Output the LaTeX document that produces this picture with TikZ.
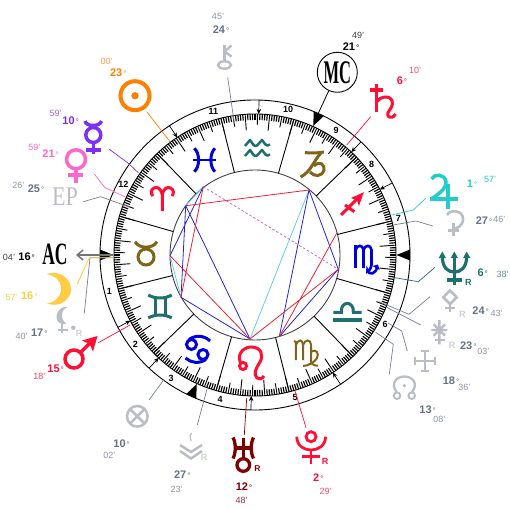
\documentclass[tikz,border=0pt]{standalone}
\usepackage{fontspec}
\setmainfont{Liberation Sans}
\newfontfamily\serifc{Liberation Serif}
\usetikzlibrary{arrows.meta}
\definecolor{cSun}{HTML}{FF8000}
\definecolor{cRed}{HTML}{FF0F33}
\definecolor{cMerc}{HTML}{7B2FF7}
\definecolor{cVen}{HTML}{FF66CC}
\definecolor{cTeal}{HTML}{1F6F6F}
\definecolor{cBlue}{HTML}{0000DD}
\definecolor{cBrown}{HTML}{806418}
\definecolor{cMoon}{HTML}{FFCC44}
\definecolor{cJup}{HTML}{22CCCC}
\definecolor{cUra}{HTML}{800000}
\definecolor{cGly}{HTML}{BBBDC4}
\definecolor{cDeg}{HTML}{667088}
\definecolor{cMin}{HTML}{8E95A6}
\definecolor{cLead}{HTML}{778090}
\definecolor{cAspC}{HTML}{66CCEE}
\definecolor{cAspB}{HTML}{2222DD}
\definecolor{cAspR}{HTML}{EE2233}
\definecolor{cAspM}{HTML}{DD66BB}
\newcommand\dgs{\kern1pt{\mdseries\fontsize{8}{8}\selectfont °}}
\tikzset{
  dg/.style={font=\bfseries\fontsize{11}{11}\selectfont,inner sep=0pt},
  mn/.style={font=\fontsize{9}{9}\selectfont,inner sep=0pt},
  hnum/.style={font=\bfseries\fontsize{9}{9}\selectfont,inner sep=0pt,text=black},
  rr/.style={font=\fontsize{9}{9}\selectfont,inner sep=0pt},
  gl/.style={line width=#1,line cap=butt,line join=miter},
  gl/.default=3,
  lead/.style={line width=0.7pt},
  asp/.style={line width=0.8pt},
  harrow/.style={line width=0.7pt,-{Stealth[length=5pt,width=4.5pt]}},
  cusp/.style={fill=black,draw=none}
}
\begin{document}
\begin{tikzpicture}[x=1pt,y=-1pt]
\useasboundingbox (0,0) rectangle (510,510);
% rings
\draw[line width=0.9pt] (255,255) circle[radius=155pt];
\draw[line width=0.9pt] (255,255) circle[radius=141pt];
\draw[line width=0.9pt,black!75] (255,255) circle[radius=85pt];
% degree ticks
\foreach \i in {0,...,359}{
  \pgfmathsetmacro\a{134-\i}
  \pgfmathsetmacro\rr{ifthenelse(mod(\i,10)==0,125,ifthenelse(mod(\i,5)==0,130,135))}
  \pgfmathsetmacro\wd{ifthenelse(mod(\i,5)==0,0.9,1.15)}
  \draw[line width=\wd pt] ({255+141*cos(\a)},{255-141*sin(\a)}) -- ({255+\rr*cos(\a)},{255-\rr*sin(\a)});
}
% sign boundaries
\foreach \a in {14,44,...,344}{
  \draw[line width=0.9pt] ({255+85*cos(\a)},{255-85*sin(\a)}) -- ({255+141*cos(\a)},{255-141*sin(\a)});
}
% house arrows
\foreach \a in {123.5,88.5,46.9,27.7,-56.5,-91.5,226.9,207.8}{
  \draw[harrow] ({255+155*cos(\a)},{255-155*sin(\a)}) -- ({255+141*cos(\a)},{255-141*sin(\a)});
}
% angle triangles
\foreach \a in {180,0,65.7,245.7}{
  \fill[cusp] ({255+141.5*cos(\a)},{255-141.5*sin(\a)}) -- ({255+155*cos(\a)+5.5*sin(\a)},{255-155*sin(\a)+5.5*cos(\a)}) -- ({255+155*cos(\a)-5.5*sin(\a)},{255-155*sin(\a)-5.5*cos(\a)}) -- cycle;
}
% house numbers
\node[hnum] (h1) at (109.3,291) {1};
\node[hnum] (h2) at (135.3,344.3) {2};
\node[hnum] (h3) at (171,378.3) {3};
\node[hnum] (h4) at (220,399.3) {4};
\node[hnum] (h5) at (295,397.7) {5};
\node[hnum] (h6) at (385,324.3) {6};
\node[hnum] (h7) at (398.3,218.3) {7};
\node[hnum] (h8) at (371.7,164.3) {8};
\node[hnum] (h9) at (336,130.7) {9};
\node[hnum] (h10) at (288,109.3) {10};
\node[hnum] (h11) at (213.3,111.7) {11};
\node[hnum] (h12) at (123.3,184.3) {12};
% aspects
\coordinate (p1) at (203.3,186.7);
\coordinate (p2) at (185.7,205.7);
\coordinate (p3) at (170,255.7);
\coordinate (p4) at (181,297.3);
\coordinate (p5) at (250,339);
\coordinate (p6) at (279.3,336.7);
\coordinate (p7) at (338.3,269.3);
\coordinate (p8) at (337,232.7);
\coordinate (p9) at (309,190);
\draw[asp,cAspC] (p1)--(p2) (p3)--(p4) (p5)--(p9);
\draw[asp,cAspB] (p1)--(p3) (p2)--(p4) (p2)--(p5) (p4)--(p5) (p6)--(p9) (p9)--(p7) (p6)--(p7);
\draw[asp,cAspR] (p2)--(p9) (p1)--(p4) (p3)--(p5) (p5)--(p7) (p6)--(p8);
\draw[asp,cAspM,dashed,dash pattern=on 2.5pt off 2pt] (p1)--(p7);
% ===== zodiac glyphs =====
% Aries
\draw[gl,cRed] (162.3,211) -- (162.3,195) .. controls (161,188) and (157,186.5) .. (154,188) .. controls (150.5,189.5) and (150.5,194) .. (153,196);
\draw[gl,cRed] (162.3,195) .. controls (163.5,188) and (167.5,186.5) .. (170.5,188) .. controls (174,189.5) and (174,194) .. (172,196);
% Pisces
\draw[gl,cBlue] (194.3,148.3) .. controls (200,153) and (200,167) .. (194.3,171.7);
\draw[gl,cBlue] (215,148.3) .. controls (209.5,153) and (209.5,167) .. (215,171.7);
\draw[gl=2.5,cBlue] (193,160) -- (216,160);
% Aquarius
\draw[gl=2.5,cTeal,line join=round] (245,146) -- (250,140) .. controls (252,142) and (254,148) .. (257,145.5) -- (262,140) .. controls (264,142) and (266,148) .. (270,144.5);
\draw[gl=2.5,cTeal,line join=round] (245,156) -- (250,150) .. controls (252,152) and (254,158) .. (257,155.5) -- (262,150) .. controls (264,152) and (266,158) .. (270,154.5);
% Capricorn
\draw[gl,cBrown] (305,152.5) .. controls (310,153.5) and (318,153) .. (324,152);
\draw[gl,cBrown] (321,153) .. controls (314,160) and (311,172) .. (300.5,177);
\draw[gl,cBrown] (314,166) .. controls (320,160) and (325,165) .. (324,170) .. controls (322,177) and (314,177) .. (310,172);
% Sagittarius
\draw[gl,cRed] (341,215) -- (359,197);
\fill[cRed] (363.8,192.2) -- (351,198) -- (357,200.5) -- (359,206) -- cycle;
\draw[gl,cRed] (345,205) -- (354.3,211.7);
% Scorpio
\draw[gl=2.6,cBlue] (355.5,245) -- (355.5,268);
\draw[gl=2.6,cBlue] (355.5,250) .. controls (357,244.5) and (363,244.5) .. (363.5,250) -- (363.5,268);
\draw[gl=2.6,cBlue] (363.5,250) .. controls (365,244.5) and (371,244.5) .. (371.5,250) -- (371.5,265) .. controls (371,270) and (366,274) .. (367.5,270) .. controls (369,276) and (376,274) .. (377,267);
\fill[cBlue] (378,264.5) -- (372.5,266) -- (379.5,270) -- cycle;
% Libra
\draw[gl=3.5,cTeal] (333.3,320) -- (361.7,320);
\draw[gl,cTeal] (333.3,312.3) -- (341.5,312.3) .. controls (340,300.5) and (354.5,300.5) .. (353.3,312.3) -- (361.7,312.3);
% Virgo
\draw[gl=2,cBrown] (294,341) -- (295.8,342) -- (295.8,360);
\draw[gl=2,cBrown] (295.8,345) .. controls (298,339) and (303,339) .. (303,345) -- (303,360);
\draw[gl=2,cBrown] (303,345) .. controls (305,339) and (311,339) .. (311,345) -- (311,362) .. controls (312,365) and (316,366) .. (318,365.5);
\draw[gl=2,cBrown] (311,352) .. controls (317,348) and (319,354) .. (317,358) .. controls (315,362) and (308,366) .. (303,366);
% Leo
\draw[gl=3,cRed] (243,366) circle[radius=3.5pt];
\draw[gl=3,cRed] (240.5,363) .. controls (236,352) and (246,346.5) .. (252,347) .. controls (261,347.5) and (264,355) .. (260,362) .. controls (256,368) and (253,374) .. (257,378) .. controls (259,380) and (262,379) .. (264,376);
% Cancer
\draw[gl,cBlue] (191.5,344.5) circle[radius=5pt];
\draw[gl,cBlue] (189,339.5) .. controls (195,335) and (204,335) .. (210,341);
\draw[gl,cBlue] (203,354.5) circle[radius=5pt];
\draw[gl,cBlue] (206,359.5) .. controls (199,364) and (191,363) .. (185.5,358);
% Gemini
\draw[gl,cTeal] (148.3,295) .. controls (155,299) and (165,299) .. (171.7,295);
\draw[gl,cTeal] (148.3,318) .. controls (155,314) and (165,314) .. (171.7,318);
\draw[gl,cTeal] (155,297) -- (155,316) (165,297) -- (165,316);
% Taurus
\draw[gl,cBrown] (135,241.7) .. controls (139,249) and (153,249) .. (157,241.7);
\draw[gl,cBrown] (146,257) circle[radius=8pt];
% ===== leaders =====
\draw[lead,cSun] (146.7,111.7) -- (170,141.7);
\draw[lead,cMerc] (109.3,149.3) -- (128.3,163.3) -- (138.3,172.7);
\draw[lead,cVen] (94.3,174) -- (105,187.7) -- (125,196.7);
\draw[lead,cLead] (83.3,201.7) -- (100.7,196.7) -- (130,207.3);
\draw[lead,cLead] (84.3,313.3) -- (90,257.7) -- (113,257.7);
\draw[lead,cMoon,line width=0.9pt] (77.3,284) -- (89.3,257.7) -- (113.3,257.7);
\draw[lead,cRed] (98.3,342.7) -- (130,325);
\draw[lead,cLead] (149,400) -- (164,379.5);
\draw[lead,cLead] (197.3,425) -- (207,389);
\draw[lead,cUra] (244.3,435) -- (246.7,398);
\draw[lead,cRed] (306,427.7) -- (295,391);
\draw[lead,cLead] (389.3,374.3) -- (393.3,344.3) -- (375.7,332.3);
\draw[lead,cLead] (407.3,351) -- (401.7,331) -- (388.3,323.3);
\draw[lead,cLead] (420.7,325) -- (386.7,307.3);
\draw[lead,cLead] (430,296.7) -- (409,314.3) -- (379,301.7);
\draw[lead,cTeal] (435,267.3) -- (418.3,281.7) -- (395,277.7);
\draw[lead,cLead] (432.7,226) -- (416,221) -- (393.3,225);
\draw[lead,cJup] (425.7,198.3) -- (413.3,210) -- (391.7,215);
\draw[lead,cRed] (370.7,116.7) -- (346.7,145);
\draw[lead,cLead] (227.7,77.3) -- (234.3,123.3);
% AC and MC
\draw[line width=1.5pt,black!55,{Straight Barb[length=6pt,width=10pt]}-] (76,255) -- (113,255);
\node[inner sep=0pt] (ac) at (55,254.5) {\serifc\bfseries\fontsize{31}{31}\selectfont\scalebox{0.56}[1]{AC}};
\node[draw=black,line width=0.9pt,circle,minimum size=40pt,inner sep=0pt] (mc) at (337.3,72.3) {\serifc\bfseries\fontsize{33}{33}\selectfont\scalebox{0.5}[1]{MC}};
\draw[line width=0.8pt] (mc) -- (318.3,113.3);
% ===== planets =====
% Sun
\draw[cSun,line width=4pt] (135,95.7) circle[radius=14.5pt];
\fill[cSun] (135,95.7) circle[radius=3.7pt];
% Mercury
\draw[gl=3.5,cMerc] (93.3,135) circle[radius=7.5pt];
\draw[gl=3.5,cMerc] (85,121) .. controls (86,127) and (100,127) .. (101.5,121);
\draw[gl=3.5,cMerc] (93.3,142) -- (93.3,154.5) (86,150) -- (101,150);
% Venus
\draw[gl=3.5,cVen] (76,159.3) circle[radius=9.5pt];
\draw[gl=3.5,cVen] (76,169) -- (76,182.7) (68,175) -- (83,175);
% EP
\node[inner sep=0pt,text=cGly] (ep) at (65,197) {\serifc\fontsize{27}{27}\selectfont\scalebox{0.82}[1]{EP}};
% Moon
\fill[cMoon] (46.5,274) .. controls (60,269.5) and (71,279) .. (71,289) .. controls (71,299) and (60,308.5) .. (47,303.5) .. controls (55,302) and (61,297) .. (61,288.5) .. controls (61,280) and (55,276) .. (46.5,274) -- cycle;
% Lilith
\fill[cGly] (67.5,307) .. controls (58,306) and (56,315) .. (56.5,318) .. controls (57,323) and (62,325) .. (66.5,323.5) .. controls (63,321) and (62,319) .. (62,315) .. controls (62,311) and (64,309) .. (67.5,307) -- cycle;
\draw[gl=2,cGly] (62,323) -- (62,332.5) (57.5,330) -- (68,330);
\fill[cGly] (73.3,327.7) circle[radius=2.2pt];
\node[rr,text=cGly] (rlil) at (79,333) {R};
% Mars
\draw[gl=3.5,cRed] (74,359) circle[radius=9pt];
\draw[gl=3.5,cRed] (80.5,352.5) -- (91,342);
\fill[cRed] (97.5,336) -- (82,340.5) -- (89.5,344) -- (93,351.5) -- cycle;
% Part of Fortune
\draw[gl=2.5,cGly] (137.3,416.3) circle[radius=10.3pt];
\draw[gl=2.5,cGly] (130,409) -- (144.6,423.6) (144.6,409) -- (130,423.6);
% South Node
\draw[gl=2.5,cGly] (180,445) -- (191,452) -- (202,445);
\draw[gl=2.5,cGly] (180,451) -- (191,458.5) -- (202,451);
\draw[gl=1.2,cGly] (191.5,433) -- (190,436) -- (191,441);
\node[rr,text=cGly] (rsn) at (204,457) {R};
% Uranus
\draw[gl=3.3,cUra] (243.3,465) circle[radius=6.3pt];
\draw[gl=3.3,cUra] (243.3,438) -- (243.3,458.5) (234,448) -- (253,448);
\draw[gl=3.3,cUra] (233,437.5) .. controls (236,443) and (236,453) .. (233,458.5);
\draw[gl=3.3,cUra] (253.5,437.5) .. controls (250.5,443) and (250.5,453) .. (253.5,458.5);
\node[font=\bfseries\fontsize{8.5}{8.5}\selectfont,inner sep=0pt,text=cUra] (rur) at (257.5,468.5) {R};
% Pluto
\draw[gl=2.8,cRed] (311,436.7) circle[radius=5pt];
\draw[gl=2.8,cRed] (296.7,436.7) .. controls (297,446) and (304,450) .. (311,450) .. controls (318,450) and (325,446) .. (325.7,436.7);
\draw[gl=2.8,cRed] (311,450) -- (311,464) (302,456.7) -- (320,456.7);
\node[font=\fontsize{9}{9}\selectfont\bfseries,inner sep=0pt,text=cRed] (rpl) at (325,461) {R};
% Ceres-like
\draw[gl=2.3,cGly] (396.5,392) .. controls (390,383) and (397,376.5) .. (404.3,376.5) .. controls (412,376.5) and (419,383) .. (412,392);
\draw[gl=2,cGly] (397,395.7) circle[radius=3.3pt];
\draw[gl=2,cGly] (411.7,395.7) circle[radius=3.3pt];
\fill[cGly] (404.3,385.7) circle[radius=1.8pt];
% Cross 18
\draw[gl=2.2,cGly] (425,350.5) -- (425,371.5) (414.5,361) -- (435.5,361);
\draw[gl=2,cGly] (421,351) -- (429,351) (421,371) -- (429,371) (415,357) -- (415,365) (435,357) -- (435,365);
% Star 23
\draw[gl=2.4,cGly] (439.3,320) -- (439.3,344.3) (431.3,330) -- (447.3,330) (433.6,324.3) -- (445,335.7) (445,324.3) -- (433.6,335.7);
\draw[gl=2,cGly] (434.5,340) -- (444.5,340);
\node[rr,text=cGly] (rst) at (452,345.7) {R};
% Diamond 24
\draw[gl=2.6,cGly] (450,290.5) -- (456.7,297.3) -- (450,304) -- (443.3,297.3) -- cycle;
\draw[gl=2.4,cGly] (450,304) -- (450,312.3) (445,308) -- (455,308);
\node[rr,text=cGly] (rdi) at (462.3,314.3) {R};
% Juno-like
\draw[gl=2.6,cGly] (447,215) .. controls (450,209) and (463,210) .. (463,219) .. controls (463,226) and (457,228.5) .. (453.5,228.5);
\draw[gl=2.6,cGly] (453.5,223) -- (453.5,235.5) (448,230.5) -- (459,230.5);
% Neptune
\draw[gl=3.2,cTeal] (442.3,256) .. controls (442.3,268) and (448,272) .. (454.3,272) .. controls (460.5,272) and (466.7,268) .. (466.7,256);
\draw[gl=3.2,cTeal] (454.3,256) -- (454.3,285) (447,280) -- (462,280);
\foreach \x in {442.3,454.3,466.7}{ \fill[cTeal] (\x,251.5) -- (\x-3.6,258) -- (\x+3.6,258) -- cycle; }
\node[font=\bfseries\fontsize{9}{9}\selectfont,inner sep=0pt,text=cTeal] (rne) at (468.3,282.3) {R};
% Jupiter
\draw[gl=3.5,cJup] (431.7,179) .. controls (434,173.5) and (445,173.5) .. (446,182) .. controls (446.5,189) and (437,195) .. (431.5,199);
\draw[gl=3.5,cJup] (430,199) -- (458,199) (448,184) -- (448,209.5);
% Saturn
\draw[gl=3.5,cRed] (376.7,84.5) -- (376.7,111.7) (370,90) -- (383,90);
\draw[gl=3,cRed] (376.7,102) .. controls (381,95) and (393,95) .. (392.5,104) .. controls (392,109) and (386,112) .. (388,116) .. controls (390,118.5) and (394,117.5) .. (395.5,114);
% Chiron
\draw[gl=2.4,cGly] (224.5,45) -- (224.5,60.5);
\draw[gl=2.4,cGly] (231.5,45.5) -- (224.5,51.5) -- (231.5,56.5);
\draw[gl=2.4,cGly] (224.5,65) ellipse[x radius=6.5pt,y radius=3.7pt];
% ===== degree labels =====
\node[dg,text=cDeg] (d01) at (221,30) {24\dgs}; \node[mn,text=cMin] (m01) at (218,16) {45'};
\node[dg,text=black] (d02) at (351,47) {21\dgs}; \node[mn,text=black!75] (m02) at (358,35) {49'};
\node[dg,text=cRed] (d03) at (402,81) {6\dgs}; \node[mn,text=cRed!75] (m03) at (415,70) {10'};
\node[dg,text=cJup] (d04) at (472,184) {1\dgs}; \node[mn,text=cJup] (m04) at (490,179) {57'};
\node[dg,text=cDeg] (d05) at (484,221) {27\dgs}; \node[mn,text=cMin] (m05) at (499.3,219) {46'};
\node[dg,text=cTeal] (d06) at (482.7,272.3) {6\dgs}; \node[mn,text=cTeal!75] (m06) at (502.7,274) {38'};
\node[dg,text=cDeg] (d07) at (480.7,310.7) {24\dgs}; \node[mn,text=cMin] (m07) at (496.7,313.3) {43'};
\node[dg,text=cDeg] (d08) at (468.3,346) {23\dgs}; \node[mn,text=cMin] (m08) at (483.3,351.7) {03'};
\node[dg,text=cDeg] (d09) at (451,380.7) {18\dgs}; \node[mn,text=cMin] (m09) at (464.3,387.3) {36'};
\node[dg,text=cDeg] (d10) at (427.7,410) {13\dgs}; \node[mn,text=cMin] (m10) at (439.3,419.3) {08'};
\node[dg,text=cRed] (d11) at (318.3,477.7) {2\dgs}; \node[mn,text=cRed!75] (m11) at (325.7,491.7) {29'};
\node[dg,text=cUra] (d12) at (244,486.7) {12\dgs}; \node[mn,text=cUra!80] (m12) at (241.7,500.7) {48'};
\node[dg,text=cDeg] (d13) at (182.3,475) {27\dgs}; \node[mn,text=cMin] (m13) at (176.7,489) {23'};
\node[dg,text=cDeg] (d14) at (121.7,443.3) {10\dgs}; \node[mn,text=cMin] (m14) at (109.3,455) {02'};
\node[dg,text=cRed] (d15) at (55.7,369) {15\dgs}; \node[mn,text=cRed!80] (m15) at (39.3,376.7) {18'};
\node[dg,text=cDeg] (d16) at (39.3,332.3) {17\dgs}; \node[mn,text=cMin] (m16) at (21.7,336.7) {40'};
\node[dg,text=cMoon] (d17) at (29.3,295.7) {16\dgs}; \node[mn,text=cMoon] (m17) at (11.7,297.7) {57'};
\node[dg,text=black] (d18) at (26.7,256.7) {16\dgs}; \node[mn,text=black!75] (m18) at (9,257.3) {04'};
\node[dg,text=cDeg] (d19) at (36,189) {25\dgs}; \node[mn,text=cMin] (m19) at (18.3,185.7) {26'};
\node[dg,text=cVen] (d20) at (50.7,154) {21\dgs}; \node[mn,text=cVen] (m20) at (34.3,147.7) {59'};
\node[dg,text=cMerc] (d21) at (70.7,121) {10\dgs}; \node[mn,text=cMerc!75] (m21) at (55.7,113.3) {59'};
\node[dg,text=cSun] (d22) at (118.3,72.7) {23\dgs}; \node[mn,text=cSun!75] (m22) at (106.7,61.7) {00'};
\end{tikzpicture}
\end{document}
